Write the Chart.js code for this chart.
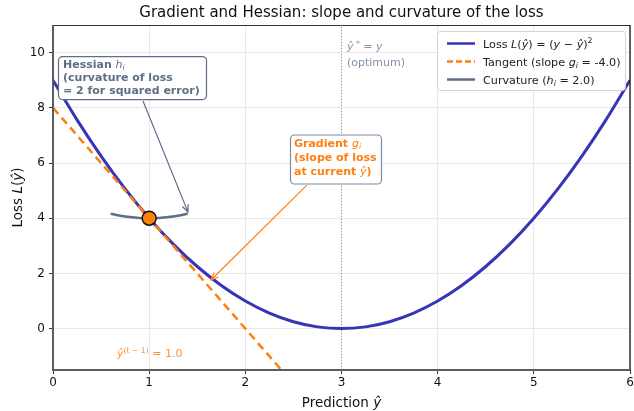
<!DOCTYPE html>
<html>
<head>
<meta charset="utf-8">
<script src="https://cdn.jsdelivr.net/npm/chart.js@4.4.1/dist/chart.umd.min.js"></script>
<style>
  html, body { margin: 0; padding: 0; background: #fff; }
  #c { display: block; }
</style>
</head>
<body>
<canvas id="c" width="634" height="411"></canvas>
<script>
// --- data ---
const lossX = [0, 0.25, 0.5, 0.75, 1, 1.25, 1.5, 1.75, 2, 2.25, 2.5, 2.75, 3,
               3.25, 3.5, 3.75, 4, 4.25, 4.5, 4.75, 5, 5.25, 5.5, 5.75, 6];
const lossY = [9, 7.5625, 6.25, 5.0625, 4, 3.0625, 2.25, 1.5625, 1, 0.5625, 0.25, 0.0625, 0,
               0.0625, 0.25, 0.5625, 1, 1.5625, 2.25, 3.0625, 4, 5.0625, 6.25, 7.5625, 9];
const tangentX = [0, 2.5];
const tangentY = [8, -2];
const curvX = [0.6, 0.7, 0.8, 0.9, 1.0, 1.1, 1.2, 1.3, 1.4];
const curvY = [4.16, 4.09, 4.04, 4.01, 4.0, 4.01, 4.04, 4.09, 4.16];
const currentX = [1];
const currentY = [4];
const optimumX = [3, 3];
const optimumY = [-1.5, 11];
const xTicks = [0, 1, 2, 3, 4, 5, 6];
const yTicks = [0, 2, 4, 6, 8, 10];

const zip = (xs, ys) => xs.map((x, i) => ({ x: x, y: ys[i] }));

const C_LOSS = '#3535b5';
const C_ORANGE = '#ff7f0e';
const C_SLATE = '#5f6d88';
const FONT = '"DejaVu Sans", Verdana, sans-serif';

// --- text helpers (mixed roman / italic / super & subscript runs) ---
function fontOf(st, size) {
  const it = st.includes('i') ? 'italic ' : '';
  const bd = st.includes('b') ? 'bold ' : '';
  return it + bd + size + 'px ' + FONT;
}
function runSize(st, size) {
  return (st.includes('^') || st.includes('_')) ? size * 0.7 : size;
}
function runsWidth(ctx, runs, size) {
  let w = 0;
  runs.forEach(([t, st]) => {
    ctx.font = fontOf(st, runSize(st, size));
    w += ctx.measureText(t).width;
  });
  return w;
}
function drawRuns(ctx, runs, x, y, size, color, align) {
  ctx.save();
  ctx.textBaseline = 'alphabetic';
  ctx.textAlign = 'left';
  ctx.fillStyle = color;
  if (align === 'center') x -= runsWidth(ctx, runs, size) / 2;
  runs.forEach(([t, st]) => {
    let dy = 0;
    if (st.includes('^')) dy = -size * 0.4;
    if (st.includes('_')) dy = size * 0.22;
    ctx.font = fontOf(st, runSize(st, size));
    ctx.fillText(t, x, y + dy);
    x += ctx.measureText(t).width;
  });
  ctx.restore();
}
function roundBox(ctx, x, y, w, h, r, fill, stroke, lw) {
  ctx.save();
  ctx.beginPath();
  ctx.roundRect(x, y, w, h, r);
  ctx.fillStyle = fill;
  ctx.fill();
  ctx.lineWidth = lw;
  ctx.strokeStyle = stroke;
  ctx.stroke();
  ctx.restore();
}
function arrow(ctx, x0, y0, x1, y1, color, lw) {
  ctx.save();
  ctx.strokeStyle = color;
  ctx.lineWidth = lw;
  ctx.beginPath();
  ctx.moveTo(x0, y0);
  ctx.lineTo(x1, y1);
  const a = Math.atan2(y1 - y0, x1 - x0);
  const L = 8, s = 0.4;
  ctx.moveTo(x1 - L * Math.cos(a - s), y1 - L * Math.sin(a - s));
  ctx.lineTo(x1, y1);
  ctx.lineTo(x1 - L * Math.cos(a + s), y1 - L * Math.sin(a + s));
  ctx.stroke();
  ctx.restore();
}

// --- annotations, legend, spines, axis titles ---
const decorations = {
  id: 'decorations',
  afterDraw(chart) {
    const ctx = chart.ctx;
    const xs = chart.scales.x, ys = chart.scales.y;
    const a = chart.chartArea;
    const px = v => xs.getPixelForValue(v);
    const py = v => ys.getPixelForValue(v);

    // spines
    ctx.save();
    ctx.lineCap = 'butt';
    ctx.strokeStyle = '#333'; ctx.lineWidth = 1;
    ctx.beginPath(); ctx.moveTo(a.left, a.top + 0.5); ctx.lineTo(a.right, a.top + 0.5); ctx.stroke();
    ctx.strokeStyle = '#111'; ctx.lineWidth = 1.3;
    ctx.beginPath(); ctx.moveTo(a.right, a.top); ctx.lineTo(a.right, a.bottom); ctx.stroke();
    ctx.strokeStyle = '#5c5c5c'; ctx.lineWidth = 2;
    ctx.beginPath(); ctx.moveTo(a.left, a.top); ctx.lineTo(a.left, a.bottom + 1); ctx.stroke();
    ctx.beginPath(); ctx.moveTo(a.left - 1, a.bottom); ctx.lineTo(a.right, a.bottom); ctx.stroke();
    ctx.restore();

    // optimum label
    drawRuns(ctx, [['ŷ', 'i'], [' *', '^'], [' = ', ''], ['y', 'i']], px(3.057), py(10.09), 11, '#8292ab');
    drawRuns(ctx, [['(optimum)', '']], px(3.057), py(9.51), 11, '#8292ab');

    // previous prediction label
    drawRuns(ctx, [['ŷ', 'i'], ['(t − 1)', '^'], [' = 1.0', '']], px(0.665), py(-1.03), 11, '#ff9233');

    // Hessian annotation
    arrow(ctx, px(0.936), py(8.25), px(1.404), py(4.22), C_SLATE, 1.2);
    const hx = px(0.104), hy = py(9.44);
    roundBox(ctx, hx - 4.5, hy - 11.5, 148, 43, 4, '#fff', C_SLATE, 1.2);
    drawRuns(ctx, [['Hessian ', 'b'], ['h', 'i'], ['i', 'i_']], hx, hy, 11, C_SLATE);
    drawRuns(ctx, [['(curvature of loss', 'b']], hx, hy + 13.2, 11, C_SLATE);
    drawRuns(ctx, [['= 2 for squared error)', 'b']], hx, hy + 26.4, 11, C_SLATE);

    // Gradient annotation
    arrow(ctx, px(2.64), py(5.2), px(1.643), py(1.76), C_ORANGE, 1.2);
    const gx = px(2.506), gy = py(6.58);
    roundBox(ctx, gx - 3.5, gy - 12, 91, 49, 4, '#fff', '#7d8aa3', 1.2);
    drawRuns(ctx, [['Gradient ', 'b'], ['g', 'i'], ['i', 'i_']], gx, gy, 11, C_ORANGE);
    drawRuns(ctx, [['(slope of loss', 'b']], gx, gy + 14, 11, C_ORANGE);
    drawRuns(ctx, [['at current ', 'b'], ['ŷ', 'i'], [')', 'b']], gx, gy + 28, 11, C_ORANGE);

    // legend
    const lw = 188, lh = 59;
    const lx = a.right - 5 - lw, ly = a.top + 6;
    roundBox(ctx, lx + 0.5, ly + 0.5, lw, lh, 3, 'rgba(255,255,255,0.85)', '#d4d4d4', 1);
    const rows = [
      { color: C_LOSS, dash: [], runs: [['Loss ', ''], ['L', 'i'], ['(', ''], ['ŷ', 'i'], [') = (', ''], ['y', 'i'], [' − ', ''], ['ŷ', 'i'], [')', ''], ['2', '^']] },
      { color: C_ORANGE, dash: [6, 3], runs: [['Tangent (slope ', ''], ['g', 'i'], ['i', 'i_'], [' = -4.0)', '']] },
      { color: C_SLATE, dash: [], runs: [['Curvature (', ''], ['h', 'i'], ['i', 'i_'], [' = 2.0)', '']] }
    ];
    rows.forEach((r, i) => {
      const yy = ly + 12.5 + i * 18;
      ctx.save();
      ctx.strokeStyle = r.color;
      ctx.lineWidth = 2.5;
      ctx.setLineDash(r.dash);
      ctx.beginPath(); ctx.moveTo(lx + 10, yy); ctx.lineTo(lx + 38, yy); ctx.stroke();
      ctx.restore();
      drawRuns(ctx, r.runs, lx + 46, yy + 4, 11.2, '#222');
    });

    // axis titles
    drawRuns(ctx, [['Prediction ', ''], ['ŷ', 'i']], (a.left + a.right) / 2, 407, 13.5, '#111', 'center');
    ctx.save();
    ctx.translate(22, (a.top + a.bottom) / 2);
    ctx.rotate(-Math.PI / 2);
    drawRuns(ctx, [['Loss ', ''], ['L', 'i'], ['(', ''], ['ŷ', 'i'], [')', '']], 0, 0, 13.5, '#111', 'center');
    ctx.restore();
  }
};

const tickFont = { family: FONT, size: 12 };

new Chart(document.getElementById('c'), {
  type: 'scatter',
  data: {
    datasets: [
      { label: 'current', data: zip(currentX, currentY), order: 0,
        pointRadius: 7, pointBackgroundColor: C_ORANGE, pointBorderColor: '#111', pointBorderWidth: 1.5 },
      { label: 'curvature', data: zip(curvX, curvY), order: 1, showLine: true,
        borderColor: C_SLATE, borderWidth: 2.5, pointRadius: 0, tension: 0.4 },
      { label: 'tangent', data: zip(tangentX, tangentY), order: 2, showLine: true, clip: 0,
        borderColor: C_ORANGE, borderWidth: 2.5, borderDash: [8, 5], pointRadius: 0 },
      { label: 'loss', data: zip(lossX, lossY), order: 3, showLine: true,
        borderColor: C_LOSS, borderWidth: 3, pointRadius: 0, cubicInterpolationMode: 'monotone' },
      { label: 'optimum', data: zip(optimumX, optimumY), order: 4, showLine: true, clip: 0,
        borderColor: '#8a94a6', borderWidth: 1, borderDash: [1, 2], pointRadius: 0 }
    ]
  },
  options: {
    responsive: false,
    animation: false,
    devicePixelRatio: 1,
    layout: { autoPadding: false, padding: { left: 0, right: 4, top: 0, bottom: 0 } },
    plugins: {
      legend: { display: false },
      tooltip: { enabled: false },
      title: {
        display: true,
        fullSize: false,
        text: 'Gradient and Hessian: slope and curvature of the loss',
        color: '#111',
        font: { family: FONT, size: 15, weight: 'normal' },
        padding: { top: 4, bottom: 3 }
      }
    },
    scales: {
      x: {
        type: 'linear', min: 0, max: 6,
        afterBuildTicks: s => { s.ticks = xTicks.map(v => ({ value: v })); },
        afterFit: s => { s.height = 41; s.paddingLeft = 0; s.paddingRight = 0; },
        ticks: { color: '#111', font: tickFont, padding: 2, maxRotation: 0 },
        grid: { color: '#e8e8e8', lineWidth: 1, tickColor: '#333', tickLength: 4 },
        border: { display: false }
      },
      y: {
        type: 'linear', min: -1.5, max: 11,
        afterBuildTicks: s => { s.ticks = yTicks.map(v => ({ value: v })); },
        afterFit: s => { s.width = 53; s.paddingTop = 0; s.paddingBottom = 0; },
        ticks: { color: '#111', font: tickFont, padding: 4 },
        grid: { color: '#e8e8e8', lineWidth: 1, tickColor: '#333', tickLength: 4 },
        border: { display: false }
      }
    }
  },
  plugins: [decorations]
});
</script>
</body>
</html>
